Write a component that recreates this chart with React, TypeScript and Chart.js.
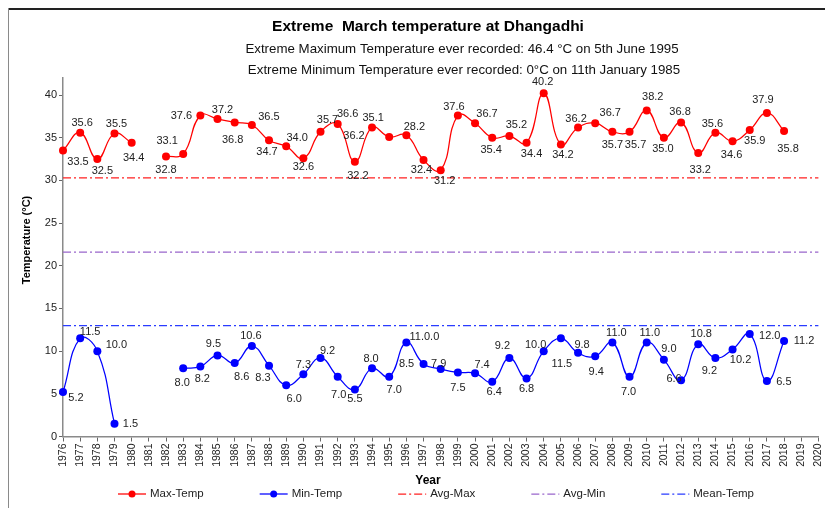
import React, { useEffect, useRef } from "react";
import { Chart, registerables } from "chart.js";

Chart.register(...registerables);

const years = [
  "1976", "1977", "1978", "1979", "1980", "1981", "1982", "1983", "1984", "1985",
  "1986", "1987", "1988", "1989", "1990", "1991", "1992", "1993", "1994", "1995",
  "1996", "1997", "1998", "1999", "2000", "2001", "2002", "2003", "2004", "2005",
  "2006", "2007", "2008", "2009", "2010", "2011", "2012", "2013", "2014", "2015",
  "2016", "2017", "2018", "2019", "2020",
];

const maxTemp = [
  33.5, 35.6, 32.5, 35.5, 34.4, null, 32.8, 33.1, 37.6, 37.2,
  36.8, 36.5, 34.7, 34.0, 32.6, 35.7, 36.6, 32.2, 36.2, 35.1,
  35.3, 32.4, 31.2, 37.6, 36.7, 35.0, 35.2, 34.4, 40.2, 34.2,
  36.2, 36.7, 35.7, 35.7, 38.2, 35.0, 36.8, 33.2, 35.6, 34.6,
  35.9, 37.9, 35.8, null, null,
];

const maxLabels = [
  "33.5", "35.6", "32.5", "35.5", "34.4", "", "32.8", "33.1", "37.6", "37.2",
  "36.8", "36.5", "34.7", "34.0", "32.6", "35.7", "36.6", "32.2", "36.2", "35.1",
  "28.2", "32.4", "31.2", "37.6", "36.7", "35.4", "35.2", "34.4", "40.2", "34.2",
  "36.2", "36.7", "35.7", "35.7", "38.2", "35.0", "36.8", "33.2", "35.6", "34.6",
  "35.9", "37.9", "35.8", "", "",
];

const minTemp = [
  5.2, 11.5, 10.0, 1.5, null, null, null, 8.0, 8.2, 9.5,
  8.6, 10.6, 8.3, 6.0, 7.3, 9.2, 7.0, 5.5, 8.0, 7.0,
  11.0, 8.5, 7.9, 7.5, 7.4, 6.4, 9.2, 6.8, 10.0, 11.5,
  9.8, 9.4, 11.0, 7.0, 11.0, 9.0, 6.6, 10.8, 9.2, 10.2,
  12.0, 6.5, 11.2, null, null,
];

const minLabels = [
  "5.2", "11.5", "10.0", "1.5", "", "", "", "8.0", "8.2", "9.5",
  "8.6", "10.6", "8.3", "6.0", "7.3", "9.2", "7.0", "5.5", "8.0", "7.0",
  "11.0.0", "8.5", "7.9", "7.5", "7.4", "6.4", "9.2", "6.8", "10.0", "11.5",
  "9.8", "9.4", "11.0", "7.0", "11.0", "9.0", "6.6", "10.8", "9.2", "10.2",
  "12.0", "6.5", "11.2", "", "",
];

const avgMax = 30.3;
const avgMin = 21.6;
const meanTemp = 13.0;

const seriesNames = ["Max-Temp", "Min-Temp", "Avg-Max", "Avg-Min", "Mean-Temp"];

const titleText = "Extreme  March temperature at Dhangadhi";
const subtitle1 = "Extreme Maximum Temperature ever recorded: 46.4 \u00B0C on 5th June 1995";
const subtitle2 = "Extreme Minimum Temperature ever recorded: 0\u00B0C on 11th January 1985";
const yTitle = "Temperature (\u00B0C)";
const xTitle = "Year";

// label placement relative to its point (style, not data)
const maxLabelOffsets: ([number, number] | null)[] = [
  [15, 11], [2, -10], [5, 12], [2, -10], [2, 15], null, [0, 13], [-16, -13], [-19, 0], [5, -9],
  [-2, 18], [17, -8], [-2, 12], [11, -8], [0, 9], [7, -12], [10, -10], [3, 14], [-18, 8], [-16, -19],
  [8, -8], [-2, 10], [4, 11], [-4, -9], [12, -9], [-1, 12], [7, -11], [5, 11], [-1, -11], [2, 10],
  [-2, -9], [15, -10], [0, 13], [6, 13], [6, -13], [-1, 11], [-1, -10], [2, 17], [-3, -9], [-1, 14],
  [5, 11], [-4, -13], [4, 18], null, null,
];

const minLabelOffsets: ([number, number] | null)[] = [
  [13, 6], [10, -6], [19, -6], [16, 0], null, null, null, [-1, 15], [2, 12], [-4, -11],
  [7, 14], [-1, -10], [-6, 12], [8, 14], [0, -9], [7, -7], [1, 18], [0, 9], [-1, -9], [5, 13],
  [18, -6], [-17, 0], [-2, -5], [0, 15], [7, -8], [2, 10], [-7, -12], [0, 11], [-8, -6], [1, 26],
  [4, -8], [1, 16], [4, -10], [-1, 15], [3, -10], [5, -11], [-7, -1], [3, -10], [-6, 13], [8, 11],
  [20, 2], [17, 1], [20, 0], null, null,
];

const FONT = "'Liberation Sans', Arial, sans-serif";
const DASH = [8, 3, 2, 3];

const labelsPlugin = {
  id: "pointLabels",
  afterDatasetsDraw(chart: any) {
    const ctx = chart.ctx;
    ctx.save();
    ctx.font = `11px ${FONT}`;
    ctx.fillStyle = "#222";
    ctx.textAlign = "center";
    ctx.textBaseline = "middle";
    const sets: [number, string[], ([number, number] | null)[]][] = [
      [0, maxLabels, maxLabelOffsets],
      [1, minLabels, minLabelOffsets],
    ];
    sets.forEach(([di, texts, offs]) => {
      const meta = chart.getDatasetMeta(di);
      meta.data.forEach((el: any, i: number) => {
        const v = chart.data.datasets[di].data[i];
        const off = offs[i];
        if (v === null || v === undefined || !off || !texts[i]) return;
        ctx.fillText(texts[i], el.x + off[0], el.y + off[1]);
      });
    });
    ctx.restore();
  },
};

const decorPlugin = {
  id: "decor",
  afterDraw(chart: any) {
    const ctx = chart.ctx;
    ctx.save();
    // outer frame
    ctx.strokeStyle = "#222";
    ctx.lineWidth = 2;
    ctx.beginPath();
    ctx.moveTo(0, 1);
    ctx.lineTo(chart.width, 1);
    ctx.stroke();
    ctx.strokeStyle = "#8a8a8a";
    ctx.lineWidth = 2;
    ctx.beginPath();
    ctx.moveTo(0, 0);
    ctx.lineTo(0, chart.height);
    ctx.stroke();

    ctx.fillStyle = "#000";
    ctx.textAlign = "center";
    ctx.textBaseline = "middle";
    ctx.font = `bold 15.5px ${FONT}`;
    ctx.fillText(titleText, 420, 19);
    ctx.font = `13.3px ${FONT}`;
    ctx.fillStyle = "#111";
    ctx.fillText(subtitle1, 454, 41);
    ctx.fillText(subtitle2, 456, 62);

    // y title
    ctx.save();
    ctx.translate(19, 232);
    ctx.rotate(-Math.PI / 2);
    ctx.font = `bold 11px ${FONT}`;
    ctx.fillStyle = "#000";
    ctx.fillText(yTitle, 0, 0);
    ctx.restore();

    // x title
    ctx.font = `bold 12px ${FONT}`;
    ctx.fillStyle = "#000";
    ctx.fillText(xTitle, 420, 473);

    // legend
    ctx.font = `11.5px ${FONT}`;
    ctx.textAlign = "left";
    let x = 110;
    const y = 486;
    chart.data.datasets.forEach((ds: any, i: number) => {
      ctx.save();
      ctx.strokeStyle = ds.borderColor;
      ctx.lineWidth = ds.borderWidth;
      ctx.setLineDash(ds.borderDash || []);
      ctx.beginPath();
      ctx.moveTo(x, y);
      ctx.lineTo(x + 28, y);
      ctx.stroke();
      if (ds.pointRadius > 0) {
        ctx.fillStyle = ds.backgroundColor;
        ctx.beginPath();
        ctx.arc(x + 14, y, 3.5, 0, Math.PI * 2);
        ctx.fill();
      }
      ctx.restore();
      ctx.fillStyle = "#222";
      ctx.fillText(seriesNames[i], x + 32, y);
      x += 32 + ctx.measureText(seriesNames[i]).width + 56;
    });
    ctx.restore();
  },
};

export default function App() {
  const ref = useRef<HTMLCanvasElement | null>(null);
  useEffect(() => {
    if (!ref.current) return;
    const chart = new Chart(ref.current, {
      type: "line",
      data: {
        labels: years,
        datasets: [
          {
            label: seriesNames[0],
            data: maxTemp,
            borderColor: "#ff0000",
            backgroundColor: "#ff0000",
            borderWidth: 1.25,
            pointRadius: 4,
            pointBorderWidth: 0,
            tension: 0.45,
            spanGaps: false,
          },
          {
            label: seriesNames[1],
            data: minTemp,
            borderColor: "#0000ff",
            backgroundColor: "#0000ff",
            borderWidth: 1.25,
            pointRadius: 4,
            pointBorderWidth: 0,
            tension: 0.45,
            spanGaps: false,
          },
          {
            label: seriesNames[2],
            data: years.map(() => avgMax),
            borderColor: "#ff2020",
            backgroundColor: "#ff2020",
            borderWidth: 1.25,
            borderDash: DASH,
            pointRadius: 0,
            tension: 0,
          },
          {
            label: seriesNames[3],
            data: years.map(() => avgMin),
            borderColor: "#9966cc",
            backgroundColor: "#9966cc",
            borderWidth: 1.25,
            borderDash: DASH,
            pointRadius: 0,
            tension: 0,
          },
          {
            label: seriesNames[4],
            data: years.map(() => meanTemp),
            borderColor: "#2a3cff",
            backgroundColor: "#2a3cff",
            borderWidth: 1.25,
            borderDash: DASH,
            pointRadius: 0,
            tension: 0,
          },
        ],
      },
      options: {
        animation: false,
        responsive: false,
        maintainAspectRatio: false,
        layout: { autoPadding: false, padding: { left: 0, right: 11, top: 70, bottom: 0 } },
        plugins: {
          legend: { display: false },
          title: { display: false },
          tooltip: { enabled: false },
        },
        scales: {
          x: {
            type: "category",
            offset: false,
            grid: {
              display: true,
              drawOnChartArea: false,
              drawTicks: true,
              tickLength: 5,
              color: "#666",
              offset: false,
            },
            border: { display: true, color: "#8a8a8a", width: 1.5 },
            ticks: {
              autoSkip: false,
              minRotation: 90,
              maxRotation: 90,
              padding: 2,
              color: "#222",
              font: { family: FONT, size: 10.5 },
            },
            afterFit: (s: any) => {
              s.height = 71.5;
            },
          },
          y: {
            min: 0,
            max: 42,
            ticks: {
              stepSize: 5,
              padding: 2,
              color: "#222",
              font: { family: FONT, size: 11 },
            },
            afterBuildTicks: (s: any) => {
              s.ticks = s.ticks.filter((t: any) => t.value % 5 === 0);
            },
            afterFit: (s: any) => {
              s.width = 55;
            },
            grid: {
              display: true,
              drawOnChartArea: false,
              drawTicks: true,
              tickLength: 4,
              color: "#666",
            },
            border: { display: true, color: "#8a8a8a", width: 1.5 },
          },
        },
      },
      plugins: [labelsPlugin, decorPlugin],
    } as any);
    return () => chart.destroy();
  }, []);
  return (
    <canvas
      ref={ref}
      width={825}
      height={500}
      style={{ display: "block", width: 825, height: 500 }}
    />
  );
}
